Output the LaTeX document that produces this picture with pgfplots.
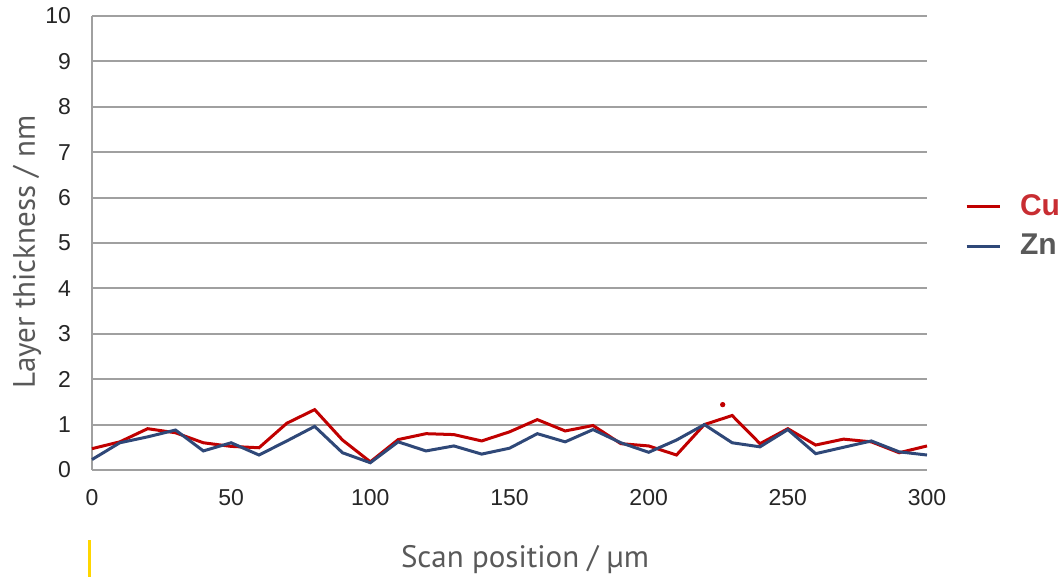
\documentclass[border=0pt]{standalone}
\usepackage{pgfplots}
\pgfplotsset{compat=1.18}
\usepackage{fontspec}
\setmainfont{Liberation Sans}
\newfontfamily\labelfont{PT Sans}
\definecolor{cured}{RGB}{192,0,0}
\definecolor{cutext}{RGB}{200,45,50}
\definecolor{znblue}{RGB}{47,72,120}
\definecolor{gridgray}{RGB}{160,160,160}
\definecolor{labgray}{RGB}{89,89,89}
\definecolor{yellowbar}{RGB}{255,214,0}
\begin{document}
\begin{tikzpicture}
\begin{axis}[
  at={(0,0)}, anchor=south west,
  scale only axis, width=417.5bp, height=227bp,
  xmin=0, xmax=300, ymin=0, ymax=10,
  xtick={0,50,...,300}, ytick={0,1,...,10},
  axis x line=bottom, axis y line=left,
  axis line style={-, draw=gridgray, line width=1bp},
  ymajorgrids, grid style={draw=gridgray, line width=1bp},
  major tick length=0pt,
  tick label style={font=\fontsize{11.5bp}{13bp}\selectfont, text=black!85},
  /pgf/number format/assume math mode=true,
  xticklabel style={yshift=-6bp},
  yticklabel style={xshift=-7bp},
  xlabel={Scan position / µm},
  ylabel={Layer thickness / nm},
  label style={font=\labelfont\fontsize{15.5bp}{17bp}\selectfont, text=labgray},
  xlabel style={at={([yshift=-45bp]rel axis cs:0.5186,0)}, anchor=center},
  ylabel style={at={([xshift=-32.5bp]rel axis cs:0,0.48)}, anchor=center},
  clip=false,
  legend style={draw=none, fill=none, inner sep=0pt, outer sep=0pt,
    at={(rel axis cs:1.0455,0.537)}, anchor=west,
    font=\bfseries\fontsize{15bp}{17bp}\selectfont,
    row sep=8bp,
    nodes={inner sep=0pt, anchor=west},
    /tikz/every odd column/.append style={column sep=9.5bp}},
  legend cell align=left,
  legend image code/.code={\draw[#1, line width=1.5bp] (0bp,0bp) -- (16.5bp,0bp);},
]
\addplot[cured, line width=1.5bp] coordinates {
(0,0.47) (10,0.62) (20,0.91) (30,0.82) (40,0.60) (50,0.52) (60,0.49) (70,1.03) (80,1.33) (90,0.66) (100,0.18)
(110,0.67) (120,0.80) (130,0.78) (140,0.64) (150,0.84) (160,1.11) (170,0.86) (180,0.98) (190,0.58) (200,0.53)
(210,0.33) (220,1.00) (230,1.20) (240,0.58) (250,0.91) (260,0.55) (270,0.68) (280,0.62) (290,0.38) (300,0.53)};
\addlegendentry{\textcolor{cutext}{Cu}}
\addplot[znblue, line width=1.5bp] coordinates {
(0,0.23) (10,0.60) (20,0.73) (30,0.88) (40,0.42) (50,0.60) (60,0.33) (70,0.64) (80,0.96) (90,0.38) (100,0.16)
(110,0.62) (120,0.42) (130,0.53) (140,0.35) (150,0.48) (160,0.80) (170,0.62) (180,0.89) (190,0.60) (200,0.39)
(210,0.66) (220,1.00) (230,0.60) (240,0.51) (250,0.89) (260,0.36) (270,0.50) (280,0.64) (290,0.40) (300,0.33)};
\addlegendentry{\textcolor{labgray}{Zn}}
\addplot[only marks, mark=*, mark size=1.1bp, cured, forget plot] coordinates {(226.6,1.44)};
\draw[yellowbar, line width=1.5bp] ([yshift=-35bp]rel axis cs:-0.0024,0) -- ([yshift=-53.5bp]rel axis cs:-0.0024,0);
\end{axis}
\pgfresetboundingbox
\useasboundingbox (-46bp,-53.5bp) rectangle (485bp,235bp);
\end{tikzpicture}
\end{document}
